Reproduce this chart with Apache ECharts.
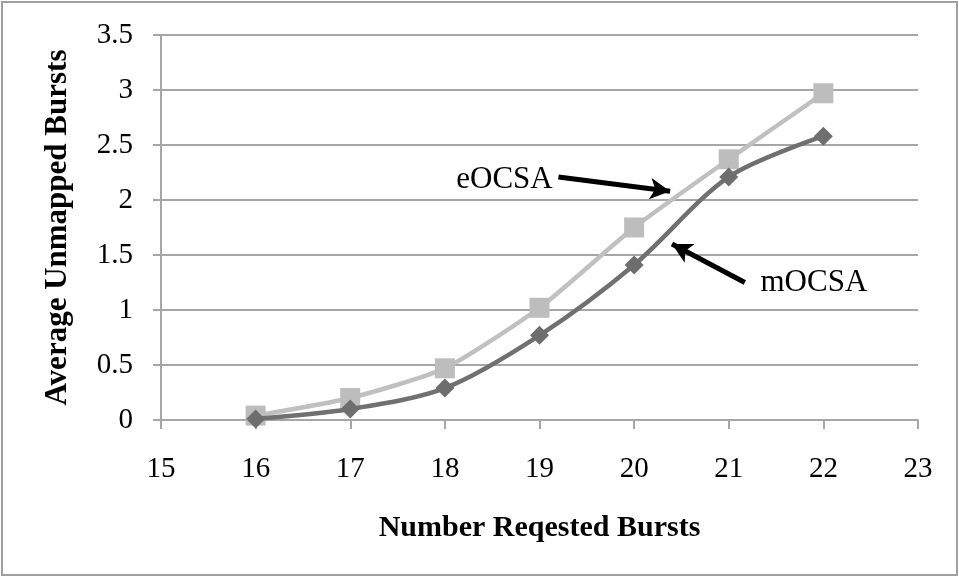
<!DOCTYPE html>
<html>
<head>
<meta charset="utf-8">
<script src="https://cdn.jsdelivr.net/npm/echarts@6/dist/echarts.min.js"></script>
<style>
  html, body { margin: 0; padding: 0; background: #fff; }
  #chart { width: 959px; height: 577px; }
</style>
</head>
<body>
<div id="chart"></div>
<script>
// values
const requestedBursts = [16, 17, 18, 19, 20, 21, 22];
const eocsaValues = [0.04, 0.2, 0.47, 1.02, 1.75, 2.37, 2.97];
const mocsaValues = [0.01, 0.1, 0.29, 0.77, 1.41, 2.21, 2.58];

// annotation arrows: [from, to] in data units
const eocsaArrow = [[19.2, 2.21], [20.38, 2.08]];
const mocsaArrow = [[21.17, 1.25], [20.4, 1.6]];
const eocsaLabelAt = [18.63, 2.18];
const mocsaLabelAt = [21.9, 1.245];

const serif = "'Liberation Serif', 'DejaVu Serif', serif";
const axisGray = "#a6a6a6";

function pairs(xs, ys) {
  return xs.map((x, i) => [x, ys[i]]);
}

function arrowLine(points) {
  return {
    silent: true,
    symbol: ["none", "arrow"],
    symbolSize: [16, 20],
    lineStyle: { color: "#000", width: 5, type: "solid" },
    label: { show: false },
    data: [[{ coord: points[0] }, { coord: points[1] }]],
  };
}

function textPoint(coord, text) {
  return {
    silent: true,
    symbol: "circle",
    symbolSize: 0,
    label: {
      show: true,
      position: "inside",
      formatter: text,
      color: "#000",
      fontFamily: serif,
      fontSize: 31,
    },
    data: [{ coord: coord }],
  };
}

const chart = echarts.init(document.getElementById("chart"));

chart.setOption({
  animation: false,
  textStyle: { fontFamily: serif },
  graphic: [
    {
      type: "rect",
      shape: { x: 2, y: 2, width: 955, height: 573 },
      style: { fill: "none", stroke: "#a0a0a0", lineWidth: 2 },
      z: -1,
    },
  ],
  grid: { left: 161, right: 41, top: 35, bottom: 157 },
  xAxis: {
    type: "value",
    min: 15,
    max: 23,
    interval: 1,
    name: "Number Reqested Bursts",
    nameLocation: "middle",
    nameGap: 93,
    nameTextStyle: { fontFamily: serif, fontSize: 30, fontWeight: "bold", color: "#000" },
    axisLine: { onZero: false, lineStyle: { color: axisGray, width: 2 } },
    axisTick: { show: true, length: 9, lineStyle: { color: axisGray, width: 2 } },
    axisLabel: { color: "#000", fontSize: 29, fontFamily: serif, margin: 35 },
    splitLine: { show: false },
  },
  yAxis: {
    type: "value",
    min: 0,
    max: 3.5,
    interval: 0.5,
    name: "Average Unmapped Bursts",
    nameLocation: "middle",
    nameGap: 88,
    nameTextStyle: { fontFamily: serif, fontSize: 31, fontWeight: "bold", color: "#000" },
    axisLine: { show: true, lineStyle: { color: axisGray, width: 2 } },
    axisTick: { show: true, length: 8, lineStyle: { color: axisGray, width: 2 } },
    axisLabel: { color: "#000", fontSize: 29, fontFamily: serif, margin: 28 },
    splitLine: { lineStyle: { color: axisGray, width: 2 } },
  },
  series: [
    {
      name: "mOCSA",
      type: "line",
      smooth: 0.3,
      symbol: "diamond",
      symbolSize: 19,
      itemStyle: { color: "#6e6e6e" },
      lineStyle: { color: "#707070", width: 4.5 },
      data: pairs(requestedBursts, mocsaValues),
      markLine: arrowLine(mocsaArrow),
      markPoint: textPoint(mocsaLabelAt, "mOCSA"),
      z: 3,
    },
    {
      name: "eOCSA",
      type: "line",
      smooth: 0.2,
      symbol: "rect",
      symbolSize: 20,
      itemStyle: { color: "#bdbdbd" },
      lineStyle: { color: "#c0c0c0", width: 4.5 },
      data: pairs(requestedBursts, eocsaValues),
      markLine: arrowLine(eocsaArrow),
      markPoint: textPoint(eocsaLabelAt, "eOCSA"),
      z: 2,
    },
  ],
});
</script>
</body>
</html>
